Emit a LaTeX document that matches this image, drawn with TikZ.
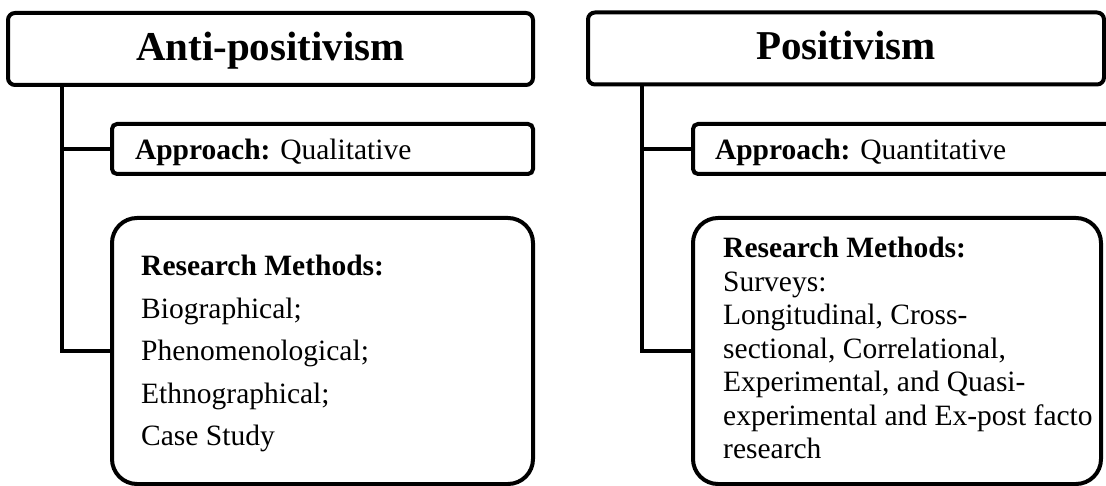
\documentclass[tikz,border=0pt]{standalone}
\usepackage{fontspec}
\setmainfont{Liberation Serif}
\frenchspacing
\begin{document}
\begin{tikzpicture}[x=1pt,y=-1pt,
  frame/.style={draw=black, line width=4pt, fill=white, inner sep=0pt, outer sep=0pt},
  titlebox/.style={frame, rounded corners=7pt, minimum height=72pt, text depth=6pt,
    font=\fontsize{41}{48}\selectfont\bfseries},
  appbox/.style={frame, rounded corners=5pt, minimum height=50pt, align=left,
    font=\fontsize{29.5}{34}\selectfont, text depth=0pt},
  resbox/.style={frame, rounded corners=25pt},
  restext/.style={anchor=north west, inner sep=0pt, align=left},
  conn/.style={draw=black, line width=4pt}]
\useasboundingbox (0,0) rectangle (1106,486);
\clip (0,0) rectangle (1106,486);

% Anti-positivism branch
\node[titlebox, minimum width=525pt] (ltitle) at (270.5,49) {Anti-positivism};
\node[appbox, text width=375pt, inner xsep=23pt] (lapp) at (322.5,149)
  {\textbf{Approach:} Qualitative};
\node[resbox, minimum width=421pt, minimum height=266pt] (lres) at (322.5,351) {};
\node[restext, font=\fontsize{29.5}{42.5}\selectfont] (lrestxt) at (141,255)
  {\textbf{Research Methods:}\\Biographical;\\Phenomenological;\\Ethnographical;\\Case Study};
\coordinate (ltrunk) at ([xshift=54pt]ltitle.south west);
\draw[conn] (ltrunk) |- (lres.west);
\draw[conn] (ltrunk |- lapp.west) -- (lapp.west);

% Positivism branch
\node[titlebox, minimum width=516pt] (rtitle) at (846,48.5) {Positivism};
\node[appbox, text width=383pt, inner xsep=22pt] (rapp) at (906.5,149)
  {\textbf{Approach:} Quantitative};
\node[resbox, minimum width=408pt, minimum height=266pt] (rres) at (897,351) {};
\node[restext, font=\fontsize{29.5}{33.5}\selectfont] (rrestxt) at (723,237)
  {\textbf{Research Methods:}\\Surveys:\\Longitudinal, Cross-\\sectional, Correlational,\\Experimental, and Quasi-\\experimental and Ex-post facto\\research};
\coordinate (rtrunk) at ([xshift=54pt]rtitle.south west);
\draw[conn] (rtrunk) |- (rres.west);
\draw[conn] (rtrunk |- rapp.west) -- (rapp.west);
\end{tikzpicture}
\end{document}
